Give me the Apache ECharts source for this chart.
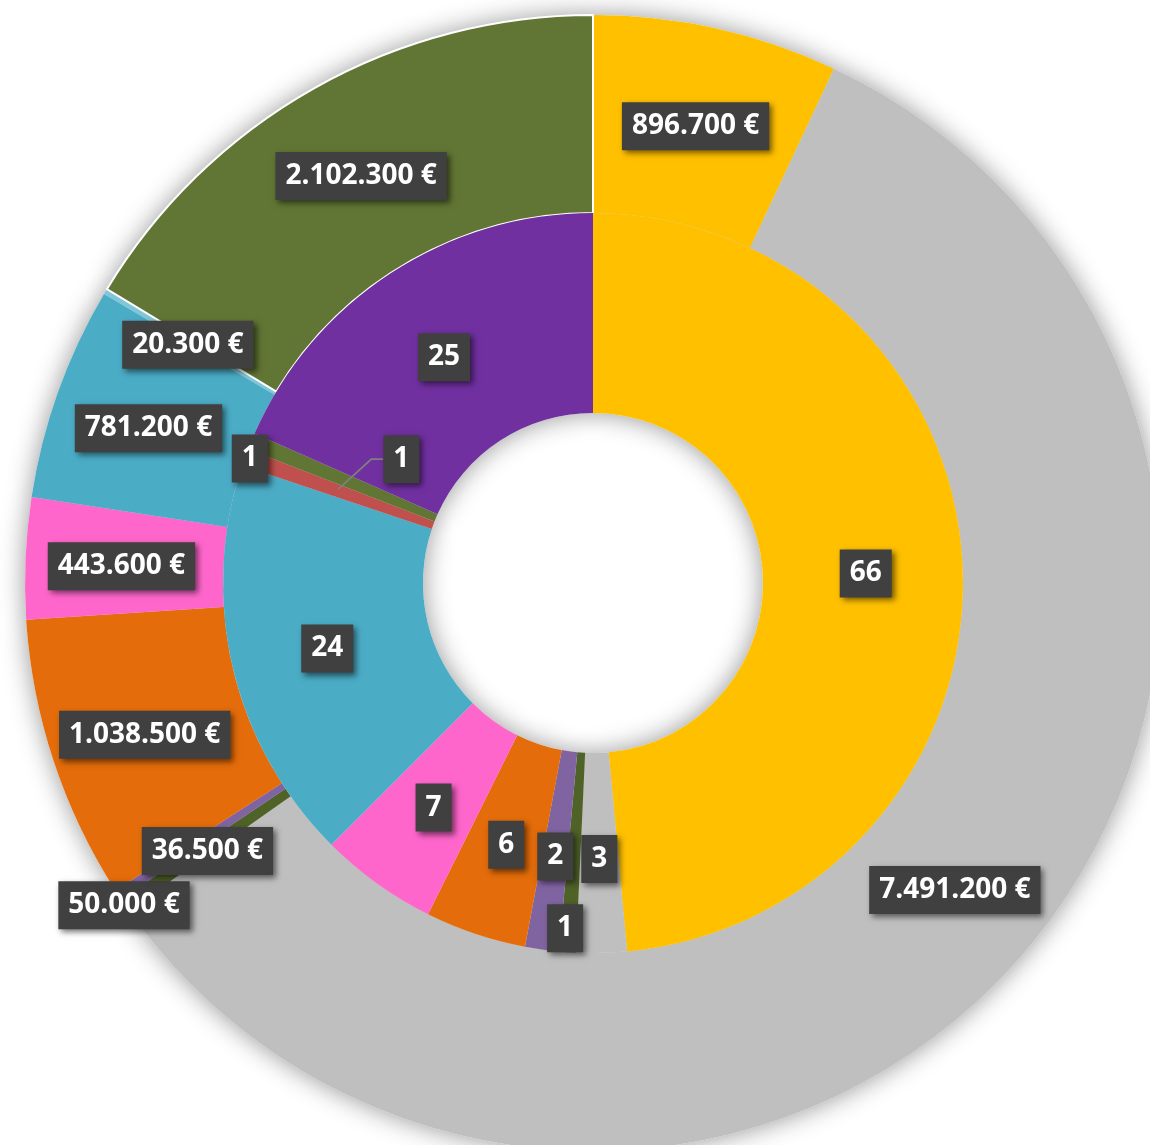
<!DOCTYPE html>
<html>
<head>
<meta charset="utf-8">
<script src="https://cdn.jsdelivr.net/npm/echarts@6/dist/echarts.min.js"></script>
<style>
  html, body { margin: 0; padding: 0; background: #fff; }
  #chart { width: 1150px; height: 1145px; }
</style>
</head>
<body>
<div id="chart"></div>
<script>
// anillo exterior: importes en €
const outerNames = ['Amarillo', 'Gris', 'Verde oscuro', 'Lila', 'Naranja', 'Rosa', 'Azul', 'Azul claro', 'Oliva'];
const outerValues = [896700, 7491200, 50000, 36500, 1038500, 443600, 781200, 20300, 2102300];
const outerColors = ['#FFC000', '#BFBFBF', '#4F6228', '#8064A2', '#E46C0A', '#FF66CC', '#4BACC6', '#7FC6DA', '#617634'];

// anillo interior: número
const innerNames = ['Amarillo', 'Gris', 'Verde oscuro', 'Lila', 'Naranja', 'Rosa', 'Azul', 'Rojo', 'Oliva', 'Morado'];
const innerValues = [66, 3, 1, 2, 6, 7, 24, 1, 1, 25];
const innerColors = ['#FFC000', '#BFBFBF', '#4F6228', '#8064A2', '#E46C0A', '#FF66CC', '#4BACC6', '#C0504D', '#617634', '#7030A0'];

// etiquetas desplazadas a mano (dx, dy)
const outerShift = { 2: [-80, 51], 3: [9, 5] };
const innerShift = { 2: [-9, 70], 8: [-91, -23] };
const leaderIndex = 7;          // etiqueta con línea guía
const leaderShift = [63, -30];

const center = [593, 583];
const innerRadius = [170, 370];
const outerRadius = [370, 568];

function euro(v) {
  return String(v).replace(/\B(?=(\d{3})+(?!\d))/g, '.') + ' €';
}

const labelBox = {
  show: true,
  position: 'inside',
  color: '#fff',
  fontFamily: 'Open Sans',
  fontWeight: 'bold',
  fontSize: 28,
  lineHeight: 30,
  backgroundColor: '#404040',
  padding: [9, 10, 9, 10],
  shadowColor: 'rgba(0,0,0,0.55)',
  shadowBlur: 6,
  shadowOffsetX: 3,
  shadowOffsetY: 3
};

const shadowStyle = { color: '#fff', shadowBlur: 26, shadowColor: 'rgba(0,0,0,0.42)' };

const chart = echarts.init(document.getElementById('chart'));

chart.setOption({
  animation: false,
  series: [
    // sombras (copias debajo)
    {
      type: 'pie', z: 1, silent: true, center: center, radius: outerRadius,
      label: { show: false }, labelLine: { show: false },
      itemStyle: shadowStyle,
      data: outerValues.map((v, i) => ({ name: outerNames[i], value: v }))
    },
    {
      type: 'pie', z: 1, silent: true, center: center, radius: innerRadius,
      label: { show: false }, labelLine: { show: false },
      itemStyle: shadowStyle,
      data: innerValues.map((v, i) => ({ name: innerNames[i], value: v }))
    },
    {
      type: 'pie', z: 2, center: center, radius: outerRadius,
      avoidLabelOverlap: false,
      emphasis: { disabled: true },
      label: Object.assign({}, labelBox, { formatter: p => euro(p.value) }),
      labelLine: { show: false },
      labelLayout: function (p) {
        const s = outerShift[p.dataIndex] || [0, 0];
        return { dx: s[0], dy: s[1] + 4 };
      },
      data: outerValues.map((v, i) => ({
        name: outerNames[i],
        value: v,
        itemStyle: i === 8
          ? { color: outerColors[i], borderColor: '#fff', borderWidth: 2 }
          : { color: outerColors[i] }
      }))
    },
    {
      type: 'pie', z: 2, center: center, radius: innerRadius,
      avoidLabelOverlap: false,
      emphasis: { disabled: true },
      label: Object.assign({}, labelBox, { formatter: '{c}' }),
      labelLine: { show: false },
      labelLayout: function (p) {
        const s = innerShift[p.dataIndex] || [0, 0];
        return { dx: s[0], dy: s[1] + 3 };
      },
      data: innerValues.map((v, i) => ({
        name: innerNames[i],
        value: v,
        itemStyle: { color: innerColors[i] },
        label: { show: i !== leaderIndex }
      }))
    },
    // capa transparente encima: etiqueta con línea guía
    {
      type: 'pie', z: 3, silent: true, center: center, radius: innerRadius,
      avoidLabelOverlap: false,
      emphasis: { disabled: true },
      itemStyle: { color: 'rgba(0,0,0,0)' },
      label: Object.assign({}, labelBox, { formatter: '{c}', show: false }),
      labelLine: { show: false },
      labelLayout: function (p) {
        if (p.dataIndex !== leaderIndex) return {};
        const cx = p.rect.x + p.rect.width / 2, cy = p.rect.y + p.rect.height / 2;
        const x = cx + leaderShift[0], y = cy + leaderShift[1];
        const left = x - p.labelRect.width / 2;
        return {
          x: x, y: y, align: 'center', verticalAlign: 'middle',
          labelLinePoints: [[cx, cy], [left - 12, y], [left, y]]
        };
      },
      data: innerValues.map((v, i) => i === leaderIndex ? {
        name: innerNames[i],
        value: v,
        label: { show: true, position: 'outside' },
        labelLine: { show: true, length: 5, length2: 5, lineStyle: { color: '#808080', width: 1.8 } }
      } : { name: innerNames[i], value: v })
    }
  ]
});
</script>
</body>
</html>
